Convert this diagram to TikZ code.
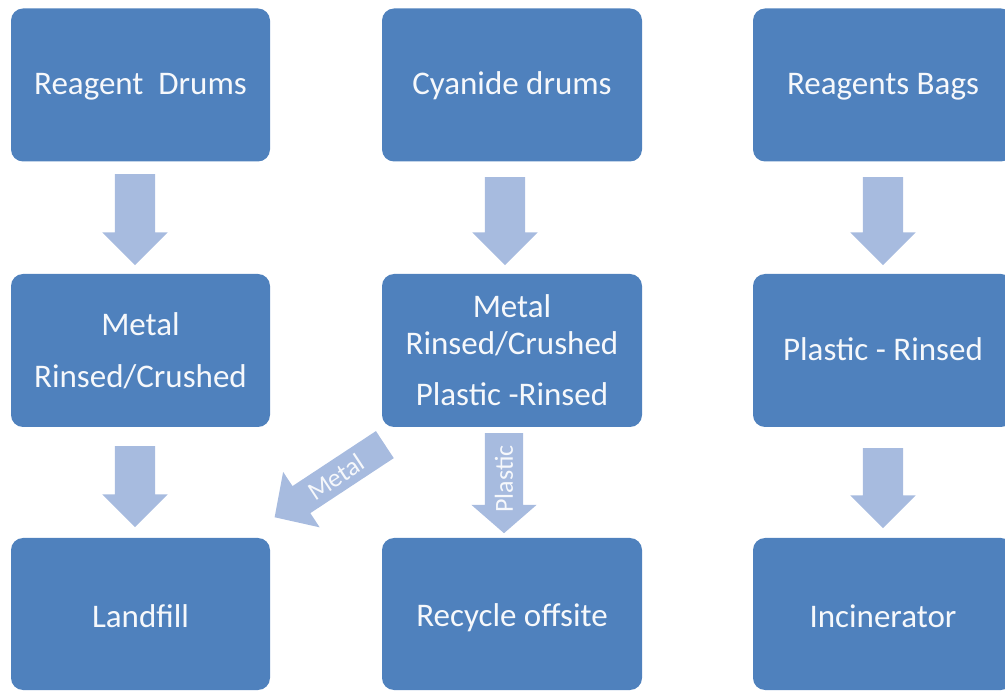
\documentclass[tikz,border=0pt]{standalone}
\usepackage{fontspec}
\setmainfont{Carlito}
\usetikzlibrary{shapes.arrows}
\definecolor{boxblue}{HTML}{4F81BD}
\definecolor{arrowblue}{HTML}{A7BBDF}
\definecolor{boxtext}{HTML}{F6F8FB}
\newcommand{\midstrut}{\rule[-6pt]{0pt}{32pt}}
\newcommand{\lowstrut}{\rule[-4pt]{0pt}{34pt}}
\begin{document}
\begin{tikzpicture}[x=1pt,y=-1pt,
  box/.style={draw=none, fill=boxblue, rounded corners=12pt, text=boxtext,
    font=\fontsize{33}{40}\selectfont, align=center, inner sep=0pt,
    minimum width=259pt, minimum height=153pt},
  blk/.style={single arrow, fill=arrowblue, draw=none, inner xsep=0pt, inner ysep=20pt,
    minimum width=0pt, single arrow head extend=12.5pt,
    single arrow tip angle=90, anchor=tail},
  lbl/.style={text=boxtext, font=\fontsize{26}{30}\selectfont, inner sep=0pt}]
\useasboundingbox (0,0) rectangle (1005,692);
\clip (0,0) rectangle (1005,692);
% boxes
\node[box] (rd) at (140.5,85) {\midstrut Reagent~~Drums};
\node[box, minimum width=260pt] (cd) at (512,85) {\midstrut Cyanide drums};
\node[box, minimum width=260pt] (rb) at (883,85) {\midstrut Reagents Bags};
\node[box] (m1) at (140.5,350.5) {Metal\\[12pt]Rinsed/Crushed};
\node[box, minimum width=260pt, font=\fontsize{33}{37}\selectfont] (m2) at (512,350.5)
  {Metal\\Rinsed/Crushed\\[14pt]Plastic -Rinsed};
\node[box, minimum width=260pt] (pr) at (883,350.5) {\midstrut Plastic - Rinsed};
\node[box, minimum height=152pt] (lf) at (140.5,614) {\lowstrut Landfill};
\node[box, minimum width=260pt, minimum height=152pt] (ro) at (512,614) {\lowstrut Recycle offsite};
\node[box, minimum width=260pt, minimum height=152pt] (in) at (883,614) {\lowstrut Incinerator};
% block arrows (placed by their tails)
\node[blk, rotate=-90, minimum height=91pt] (a1) at (135,174) {};
\node[blk, rotate=-90, minimum height=88pt] (a2) at (505,177) {};
\node[blk, rotate=-90, minimum height=88pt] (a3) at (883,177) {};
\node[blk, rotate=-90, minimum height=81pt] (a4) at (135,446) {};
\node[blk, rotate=-90, minimum height=80pt] (a5) at (883,448) {};
\node[blk, rotate=-90, minimum height=100pt, inner ysep=19pt, single arrow head extend=13.5pt,
  single arrow tip angle=98] (ap) at (504,433) {};
\node[blk, rotate=213.4, minimum height=132pt, inner ysep=16pt,
  single arrow head extend=17pt, single arrow tip angle=92] (am) at (385,444.5) {};
\node[lbl, rotate=90] (tp) at (504,479) {Plastic};
\node[lbl, rotate=33.4] (tm) at (336,477) {Metal};
\end{tikzpicture}
\end{document}
